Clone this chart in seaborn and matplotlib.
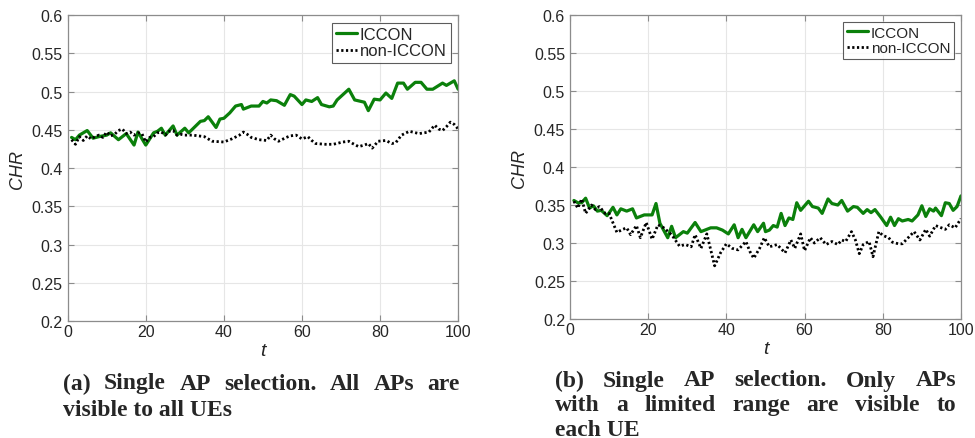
# CHR over time, ICCON vs non-ICCON, two scenarios
import pandas as pd
import matplotlib.pyplot as plt
import seaborn as sns

# (a) all APs visible to all UEs
t_a_iccon = [1, 2, 3, 5, 6.5, 8, 10, 11, 13, 15, 17, 18, 20, 22, 23, 24, 25, 27, 28, 30, 31,
             34, 35, 36, 38, 39, 40, 41.5, 43, 44.5, 45, 47, 49, 50, 51, 52, 53.5, 55.5, 57,
             58, 60, 61, 62.5, 64, 65, 67, 68, 69, 72, 73.5, 76, 77, 78.5, 80, 81.5, 83,
             84.5, 86, 87, 89, 90.5, 92, 93.5, 96, 97, 99, 100]
a_iccon = [0.440, 0.437, 0.443, 0.449, 0.439, 0.441, 0.443, 0.446, 0.437, 0.445, 0.430, 0.447,
           0.430, 0.446, 0.448, 0.452, 0.443, 0.455, 0.443, 0.452, 0.446, 0.461, 0.462, 0.467,
           0.453, 0.464, 0.465, 0.472, 0.481, 0.483, 0.477, 0.481, 0.481, 0.487, 0.485, 0.489,
           0.488, 0.482, 0.496, 0.494, 0.483, 0.489, 0.487, 0.492, 0.483, 0.480, 0.481, 0.489,
           0.503, 0.489, 0.486, 0.475, 0.490, 0.489, 0.498, 0.491, 0.511, 0.511, 0.503, 0.512,
           0.512, 0.503, 0.503, 0.511, 0.508, 0.514, 0.503]

t_a_non = [1, 2, 3, 4, 5, 6, 7, 8, 9, 10, 11, 12, 13, 14, 15, 16, 17, 18, 19, 20, 21, 22, 23,
           24, 25, 26, 27, 28, 29, 30, 32, 35, 37, 40, 42, 44, 45, 46, 47, 49, 51, 52, 53, 54,
           56, 57, 58.5, 60, 61.5, 62.5, 63.5, 66, 68, 70.5, 72, 73, 74.5, 76, 77, 78, 79.5,
           81.5, 83, 84, 85.5, 87.5, 90, 92.5, 94, 95, 96, 97, 98, 99, 100]
a_non = [0.437, 0.431, 0.441, 0.436, 0.442, 0.438, 0.441, 0.443, 0.440, 0.447, 0.442, 0.444,
         0.449, 0.451, 0.445, 0.447, 0.443, 0.446, 0.445, 0.434, 0.440, 0.441, 0.446, 0.447,
         0.443, 0.448, 0.449, 0.443, 0.444, 0.443, 0.443, 0.441, 0.435, 0.434, 0.438, 0.443,
         0.447, 0.444, 0.440, 0.437, 0.436, 0.443, 0.438, 0.435, 0.440, 0.442, 0.443, 0.438,
         0.441, 0.436, 0.432, 0.431, 0.431, 0.434, 0.435, 0.432, 0.428, 0.430, 0.432, 0.426,
         0.435, 0.436, 0.432, 0.433, 0.443, 0.448, 0.445, 0.447, 0.456, 0.451, 0.449, 0.454,
         0.460, 0.457, 0.451]

# (b) only APs within limited range visible
t_b_iccon = [1, 2, 3, 4, 5, 6, 7, 8, 9.5, 11, 12, 13, 14.5, 16, 17, 19, 21, 22, 23, 25, 26, 27,
             29, 30, 32, 33.5, 36, 37.5, 39, 40.5, 42, 43, 44, 45, 47, 48, 49.5, 50, 51, 52,
             53, 54, 55, 56, 57, 58, 59, 61, 62, 63.5, 64.5, 66, 67, 68.5, 69.5, 71, 72.5,
             73.5, 75, 76, 77, 78, 79.5, 81, 82, 83, 84, 85, 86.5, 87.5, 89, 90, 91, 92, 93,
             93.5, 95, 96, 97, 98, 99, 100]
b_iccon = [0.356, 0.353, 0.353, 0.359, 0.346, 0.349, 0.342, 0.343, 0.336, 0.347, 0.337, 0.345,
           0.342, 0.345, 0.333, 0.337, 0.337, 0.352, 0.326, 0.307, 0.322, 0.307, 0.315, 0.313,
           0.327, 0.315, 0.320, 0.320, 0.317, 0.312, 0.324, 0.307, 0.318, 0.307, 0.324, 0.315,
           0.326, 0.315, 0.317, 0.323, 0.321, 0.339, 0.323, 0.333, 0.331, 0.353, 0.343, 0.355,
           0.348, 0.346, 0.339, 0.358, 0.352, 0.350, 0.356, 0.342, 0.348, 0.347, 0.339, 0.344,
           0.340, 0.344, 0.334, 0.323, 0.334, 0.323, 0.332, 0.329, 0.331, 0.329, 0.337, 0.349,
           0.335, 0.345, 0.342, 0.346, 0.336, 0.353, 0.352, 0.343, 0.348, 0.362]

t_b_non = [1, 2, 3, 4, 5.5, 6.5, 7.5, 9, 10, 12, 13.5, 14.5, 15.5, 17, 18, 19.5, 21, 22.5, 24,
           26, 28, 29.5, 31, 32, 33.5, 35, 36, 37, 38.5, 40, 41.5, 43, 45, 46, 47, 48.5, 49.7,
           51, 53, 55, 56.5, 57.5, 59, 60, 61.5, 62.5, 64, 65.5, 67, 68.5, 69.5, 70.5, 72, 73,
           74, 75, 76.5, 77.5, 79, 80, 81.5, 82.5, 84, 85, 86.5, 88, 89.5, 91, 92, 93.5, 95,
           96, 97, 98.5, 100]
b_non = [0.355, 0.346, 0.358, 0.339, 0.350, 0.344, 0.348, 0.339, 0.339, 0.314, 0.318, 0.320,
         0.311, 0.323, 0.307, 0.327, 0.305, 0.324, 0.320, 0.311, 0.296, 0.298, 0.295, 0.311,
         0.293, 0.312, 0.291, 0.270, 0.287, 0.299, 0.293, 0.291, 0.302, 0.289, 0.280, 0.293,
         0.307, 0.295, 0.298, 0.287, 0.304, 0.293, 0.312, 0.290, 0.307, 0.300, 0.307, 0.298,
         0.302, 0.298, 0.304, 0.302, 0.315, 0.304, 0.286, 0.298, 0.302, 0.282, 0.315, 0.310,
         0.307, 0.301, 0.299, 0.299, 0.307, 0.315, 0.304, 0.318, 0.309, 0.323, 0.320, 0.318,
         0.324, 0.320, 0.332]

y_ticks = [0.2, 0.25, 0.3, 0.35, 0.4, 0.45, 0.5, 0.55, 0.6]
y_labels = ['0.2', '0.25', '0.3', '0.35', '0.4', '0.45', '0.5', '0.55', '0.6']
x_ticks = [0, 20, 40, 60, 80, 100]

cap_a = ['(a) Single AP selection. All APs are', 'visible to all UEs']
cap_b = ['(b) Single AP selection. Only APs', 'with a limited range are visible to', 'each UE']

green = '#0b800b'

sns.set_style('whitegrid')
plt.rcParams['font.family'] = ['Liberation Sans', 'DejaVu Sans']

fig = plt.figure(figsize=(9.75, 4.39), dpi=100)
ax_a = fig.add_axes([0.0694, 0.2665, 0.4005, 0.697])
ax_b = fig.add_axes([0.5846, 0.271, 0.401, 0.6925])


def draw(ax, t1, v1, t2, v2, legend_size, handle_len):
    d1 = pd.DataFrame({'t': t1, 'CHR': v1})
    d2 = pd.DataFrame({'t': t2, 'CHR': v2})
    sns.lineplot(data=d1, x='t', y='CHR', ax=ax, color=green, lw=2.3, label='ICCON',
                 estimator=None)
    sns.lineplot(data=d2, x='t', y='CHR', ax=ax, color='black', lw=2.0, ls=(0, (0.8, 0.9)),
                 label='non-ICCON', estimator=None)
    ax.set_xlim(0, 100)
    ax.set_ylim(0.2, 0.6)
    ax.set_xticks(x_ticks)
    ax.set_yticks(y_ticks)
    ax.set_yticklabels(y_labels)
    ax.grid(True, color='#e6e6e6', lw=0.8)
    for s in ax.spines.values():
        s.set_visible(True)
        s.set_color('#8c8c8c')
        s.set_linewidth(0.9)
    ax.tick_params(direction='in', length=4, color='#8c8c8c', labelsize=11.5,
                   labelcolor='#262626', top=True, right=True, left=True, bottom=True)
    ax.tick_params(axis='x', pad=2)
    ax.set_xlabel('t', fontsize=14, style='italic', color='#262626', labelpad=2)
    ax.set_ylabel('CHR', fontsize=13, style='italic', color='#262626', labelpad=4)
    leg = ax.legend(loc='upper right', fontsize=legend_size, frameon=True, fancybox=False,
                    borderaxespad=0.45, handlelength=handle_len, handletextpad=0.15,
                    borderpad=0.25, labelspacing=0.1)
    leg.get_frame().set_edgecolor('#333333')
    leg.get_frame().set_linewidth(0.8)


draw(ax_a, t_a_iccon, a_iccon, t_a_non, a_non, 12, 1.25)
draw(ax_b, t_b_iccon, b_iccon, t_b_non, b_non, 11, 1.4)


# justified caption lines, last line left aligned
def caption(lines, x0, x1, y0, dy, size):
    r = fig.canvas.get_renderer()
    W, H = fig.bbox.width, fig.bbox.height
    for i, line in enumerate(lines):
        y = 1 - (y0 + dy * i) / H
        kw = dict(fontsize=size, fontweight='bold', family='Liberation Serif', va='center')
        if i == len(lines) - 1:
            fig.text(x0 / W, y, line, **kw)
            continue
        words = line.split()
        texts = [fig.text(0, y, w, **kw) for w in words]
        widths = [t.get_window_extent(r).width for t in texts]
        gap = (x1 - x0 - sum(widths)) / (len(words) - 1)
        x = x0
        for t, w in zip(texts, widths):
            t.set_x(x / W)
            x += w + gap


caption(cap_a, 63, 460, 384, 26, 17)
caption(cap_b, 555, 956, 381, 24.5, 17)

plt.savefig('out.png', format='png', dpi=100)
